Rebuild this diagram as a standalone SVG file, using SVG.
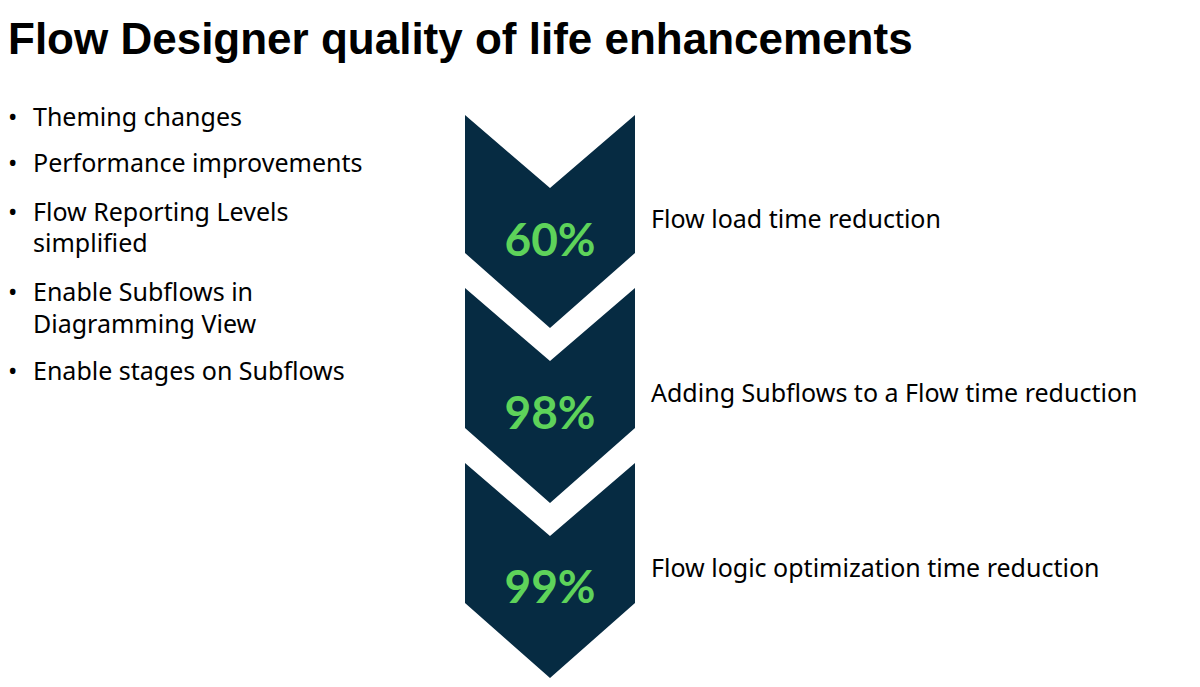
<svg xmlns="http://www.w3.org/2000/svg" width="1200" height="687" viewBox="0 0 1200 687">
<style>
.t{font-family:"Liberation Sans",Arial,sans-serif;fill:#000}
.b{font-family:"Noto Sans","Liberation Sans",sans-serif;font-size:25px;fill:#000}
.c{fill:#062B42}
.p{font-family:"Lato","Liberation Sans",sans-serif;font-weight:bold;font-size:46px;fill:#5ED35A;text-anchor:middle}
.l{font-family:"Noto Sans","Liberation Sans",sans-serif;font-size:25px;fill:#000}
</style>
<rect width="1200" height="687" fill="#fff"/>
<text class="t" x="8" y="54" font-size="44" font-weight="bold">Flow Designer quality of life enhancements</text>
<g id="bullets">
<text class="b" x="8" y="126">•</text><text class="b" x="33" y="126">Theming changes</text>
<text class="b" x="8" y="172">•</text><text class="b" x="33" y="172">Performance improvements</text>
<text class="b" x="8" y="221">•</text><text class="b" x="33" y="221">Flow Reporting Levels</text>
<text class="b" x="33" y="252">simplified</text>
<text class="b" x="8" y="301">•</text><text class="b" x="33" y="301">Enable Subflows in</text>
<text class="b" x="33" y="333">Diagramming View</text>
<text class="b" x="8" y="380">•</text><text class="b" x="33" y="380">Enable stages on Subflows</text>
</g>
<g id="chevron1"><path class="c" d="M465,115 L550,188 L635,115 L635,253 L550,328 L465,253 Z"/><text class="p" x="550" y="256">60%</text><text class="l" x="651" y="228">Flow load time reduction</text></g>
<g id="chevron2"><path class="c" d="M465,288 L550,361 L635,288 L635,428 L550,503 L465,428 Z"/><text class="p" x="550" y="429">98%</text><text class="l" x="651" y="402">Adding Subflows to a Flow time reduction</text></g>
<g id="chevron3"><path class="c" d="M465,463 L550,536 L635,463 L635,603 L550,678 L465,603 Z"/><text class="p" x="550" y="603">99%</text><text class="l" x="651" y="577">Flow logic optimization time reduction</text></g>
<g id="connectors"/>
</svg>
